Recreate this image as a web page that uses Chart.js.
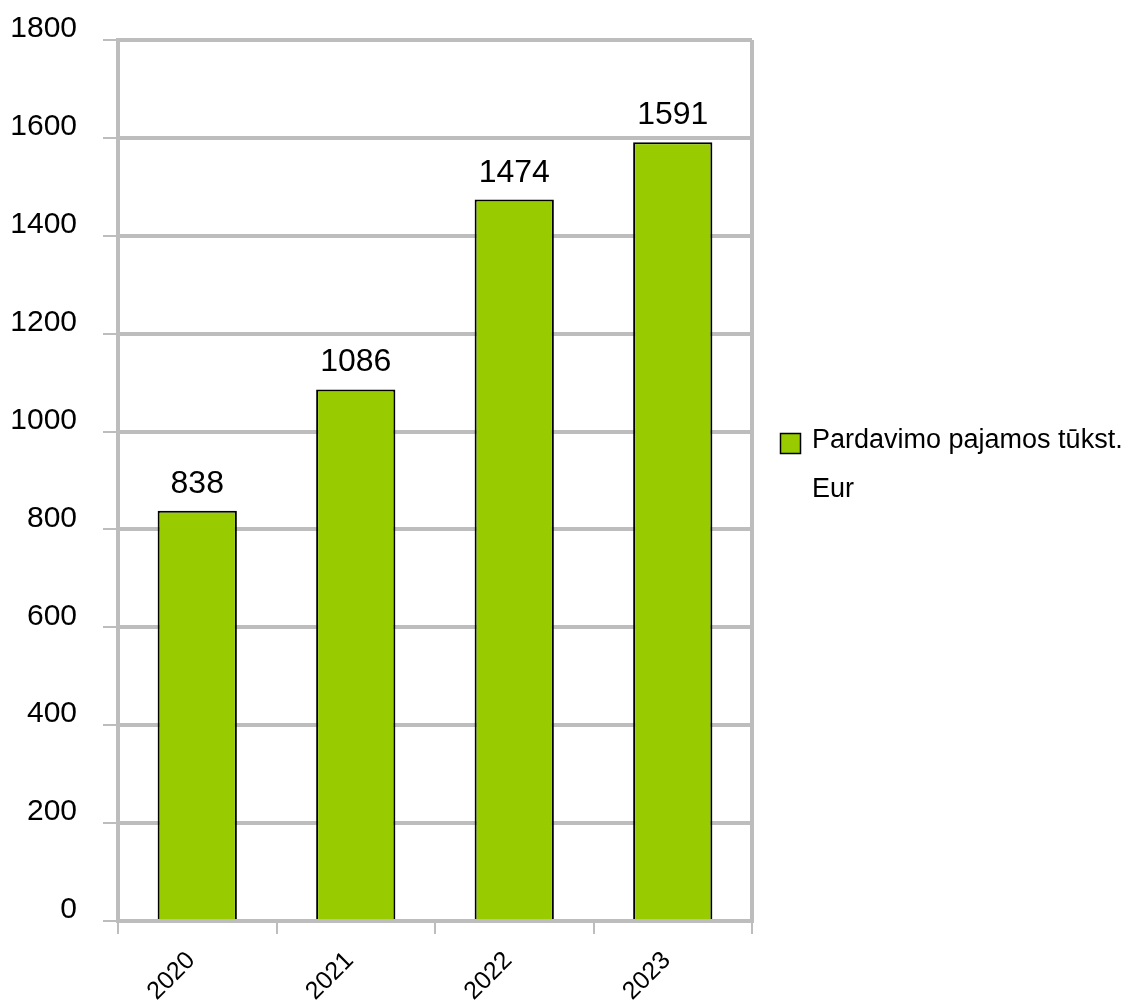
<!DOCTYPE html>
<html>
<head>
<meta charset="utf-8">
<script src="https://cdn.jsdelivr.net/npm/chart.js@4.4.1/dist/chart.umd.min.js"></script>
<style>
  html, body { margin: 0; padding: 0; background: #fff; }
  #wrap { width: 1136px; height: 1007px; }
</style>
</head>
<body>
<div id="wrap"><canvas id="salesChart"></canvas></div>
<script>
// duomenys
const years = ['2020', '2021', '2022', '2023'];
const salesValues = [838, 1086, 1474, 1591];
const seriesLabel = 'Pardavimo pajamos tūkst. Eur';
const yTicks = [0, 200, 400, 600, 800, 1000, 1200, 1400, 1600, 1800];

const FONT = "'Liberation Sans', Arial, sans-serif";
const gridGray = '#bdbdbd';
const barGreen = '#99cc00';

// reikšmės virš stulpelių
const valueLabels = {
    id: 'valueLabels',
    afterDatasetsDraw(chart) {
        const ctx = chart.ctx;
        const meta = chart.getDatasetMeta(0);
        ctx.save();
        ctx.font = '32px ' + FONT;
        ctx.fillStyle = '#000';
        ctx.textAlign = 'center';
        ctx.textBaseline = 'alphabetic';
        meta.data.forEach((bar, i) => {
            ctx.fillText(String(chart.data.datasets[0].data[i]), bar.x, bar.y - 18);
        });
        ctx.restore();
    }
};

// legenda dešinėje
const sideLegend = {
    id: 'sideLegend',
    afterDraw(chart) {
        const ctx = chart.ctx;
        const ds = chart.data.datasets[0];
        const boxX = 780, boxY = 433, boxSize = 21;
        const textX = 812;
        const maxW = chart.width - textX - 2;
        ctx.save();
        ctx.fillStyle = ds.backgroundColor;
        ctx.fillRect(boxX, boxY, boxSize, boxSize);
        ctx.strokeStyle = '#000';
        ctx.lineWidth = 1.5;
        ctx.strokeRect(boxX + 0.5, boxY + 0.5, boxSize - 1, boxSize - 1);

        ctx.font = '27px ' + FONT;
        ctx.fillStyle = '#000';
        ctx.textBaseline = 'alphabetic';
        const words = ds.label.split(' ');
        const lines = [];
        let line = '';
        words.forEach(w => {
            const test = line ? line + ' ' + w : w;
            if (ctx.measureText(test).width > maxW && line) {
                lines.push(line);
                line = w;
            } else {
                line = test;
            }
        });
        lines.push(line);
        lines.forEach((l, i) => ctx.fillText(l, textX, 448 + i * 49));
        ctx.restore();
    }
};

new Chart(document.getElementById('salesChart').getContext('2d'), {
    type: 'bar',
    data: {
        labels: years,
        datasets: [{
            label: seriesLabel,
            data: salesValues,
            backgroundColor: barGreen,
            borderColor: '#000',
            borderWidth: { top: 2, left: 2, right: 2, bottom: 0 },
            barPercentage: 0.5,
            categoryPercentage: 1.0
        }]
    },
    options: {
        responsive: true,
        maintainAspectRatio: false,
        animation: false,
        layout: {
            padding: { top: 40, right: 384, bottom: 0, left: 0 }
        },
        scales: {
            x: {
                offset: true,
                grid: {
                    offset: true,
                    // tik kraštinės linijos matomos
                    color: c => (c.type === 'tick' && c.index > 0) ? 'rgba(0,0,0,0)' : gridGray,
                    lineWidth: 4,
                    drawTicks: true,
                    tickLength: 13,
                    tickColor: gridGray,
                    tickWidth: 2
                },
                border: { display: true, color: gridGray, width: 4 },
                ticks: {
                    color: '#000',
                    font: { family: FONT, size: 25 },
                    minRotation: 45,
                    maxRotation: 45,
                    padding: 12,
                    labelOffset: -6
                },
                afterFit: scale => { scale.height = 86; }
            },
            y: {
                min: 0,
                max: 1800,
                afterBuildTicks: scale => {
                    scale.ticks = yTicks.map(v => ({ value: v }));
                },
                grid: {
                    color: gridGray,
                    lineWidth: 4,
                    drawTicks: true,
                    tickLength: 15,
                    tickColor: gridGray,
                    tickWidth: 2
                },
                border: { display: true, color: gridGray, width: 4 },
                ticks: {
                    color: '#000',
                    font: { family: FONT, size: 30 },
                    padding: 26,
                    labelOffset: -11,
                    callback: v => String(v)
                },
                afterFit: scale => {
                    scale.width = 118;
                    scale.paddingTop = 0;
                }
            }
        },
        plugins: {
            legend: { display: false },
            tooltip: { enabled: false }
        }
    },
    plugins: [valueLabels, sideLegend]
});
</script>
</body>
</html>
